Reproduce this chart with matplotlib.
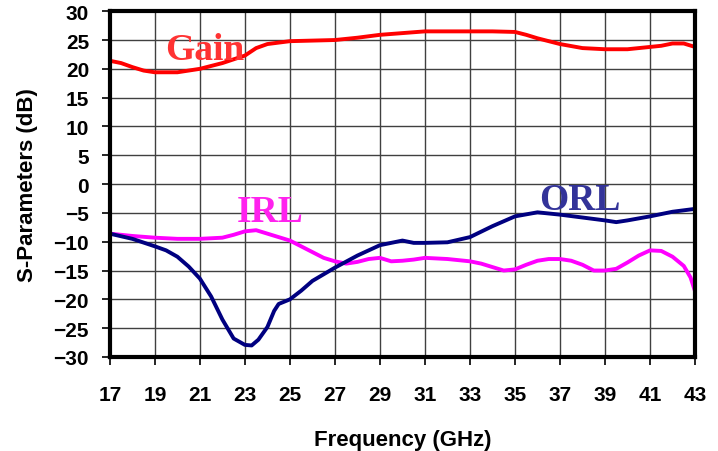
import numpy as np
import matplotlib.pyplot as plt

gain_f = [17, 17.5, 18, 18.5, 19, 20, 21, 22, 23, 23.5, 24, 25, 26, 27, 28, 29, 30, 31, 32, 33,
          34, 35, 35.5, 36, 37, 38, 39, 40, 41, 41.5, 42, 42.5, 43]
gain_db = [21.4, 21.0, 20.3, 19.7, 19.4, 19.4, 20.0, 21.0, 22.3, 23.6, 24.3, 24.8, 24.9, 25.0, 25.4,
           25.9, 26.2, 26.5, 26.5, 26.5, 26.5, 26.4, 25.9, 25.3, 24.3, 23.6, 23.4, 23.4, 23.8,
           24.0, 24.4, 24.4, 23.8]

irl_f = [17, 18, 19, 20, 21, 22, 22.5, 23, 23.5, 24, 24.5, 25, 25.5, 26, 26.5, 27, 27.5, 28, 28.5,
         29, 29.5, 30, 30.5, 31, 32, 33, 33.5, 34, 34.5, 35, 35.5, 36, 36.5, 37, 37.5, 38, 38.5,
         39, 39.5, 40, 40.5, 41, 41.5, 42, 42.5, 42.8, 43]
irl_db = [-8.6, -9.0, -9.3, -9.5, -9.5, -9.3, -8.8, -8.2, -8.0, -8.6, -9.2, -9.8, -10.8, -11.8,
          -12.8, -13.4, -13.8, -13.5, -13.0, -12.8, -13.4, -13.3, -13.1, -12.8, -13.0, -13.4,
          -13.8, -14.4, -15.0, -14.8, -14.0, -13.3, -13.0, -13.0, -13.3, -14.0, -15.0, -15.0,
          -14.7, -13.6, -12.4, -11.5, -11.6, -12.6, -14.2, -16.2, -18.6]

orl_f = [17, 18, 19, 19.5, 20, 20.5, 21, 21.5, 22, 22.5, 23, 23.3, 23.6, 24, 24.3, 24.5, 25,
         25.5, 26, 27, 28, 29, 30, 30.5, 31, 32, 33, 34, 35, 36, 37, 38, 39, 39.5, 40, 41, 42, 43]
orl_db = [-8.6, -9.5, -10.8, -11.5, -12.6, -14.3, -16.4, -19.5, -23.5, -26.8, -27.9, -28.0,
          -27.0, -24.8, -22.0, -20.8, -20.0, -18.5, -16.8, -14.5, -12.4, -10.6, -9.8, -10.2,
          -10.2, -10.1, -9.2, -7.3, -5.6, -4.9, -5.3, -5.8, -6.3, -6.6, -6.3, -5.6, -4.8, -4.3]

fig, ax = plt.subplots(figsize=(7.18, 4.52), dpi=100)
fig.subplots_adjust(left=0.153, right=0.968, top=0.973, bottom=0.208)

ax.plot(gain_f, gain_db, color='#ff0000', linewidth=2.8)
ax.plot(irl_f, irl_db, color='#ff00ff', linewidth=2.8)
ax.plot(orl_f, orl_db, color='#000080', linewidth=2.8)

ax.set_xlim(17, 43)
ax.set_ylim(-30, 30)
ax.set_xticks(np.arange(17, 44, 2))
ax.set_yticks(np.arange(-30, 31, 5))
ax.grid(True, color='#404040', linewidth=1.0)
ax.set_axisbelow(True)

for s in ax.spines.values():
    s.set_linewidth(3)
ax.tick_params(direction='out', length=6, width=1.2)
ax.tick_params(axis='y', pad=9)
ax.tick_params(axis='x', pad=14)
for lab in ax.get_xticklabels() + ax.get_yticklabels():
    lab.set_fontweight('bold')
    lab.set_fontsize(15)
    lab.set_family('Liberation Sans')

ax.set_xlabel('Frequency (GHz)', fontsize=16, fontweight='bold', family='Liberation Sans', labelpad=18)
ax.set_ylabel('S-Parameters (dB)', fontsize=16, fontweight='bold', family='Liberation Sans', labelpad=11)

ax.text(21.2, 21.7, 'Gain', color='#ff3333', fontsize=27, fontweight='bold',
        family='Liberation Serif', ha='center', va='baseline')
ax.text(24.1, -6.4, 'IRL', color='#ff22ee', fontsize=27, fontweight='bold',
        family='Liberation Serif', ha='center', va='baseline')
ax.text(37.9, -4.4, 'ORL', color='#333399', fontsize=27, fontweight='bold',
        family='Liberation Serif', ha='center', va='baseline')

fig.savefig('out.png', dpi=100)
